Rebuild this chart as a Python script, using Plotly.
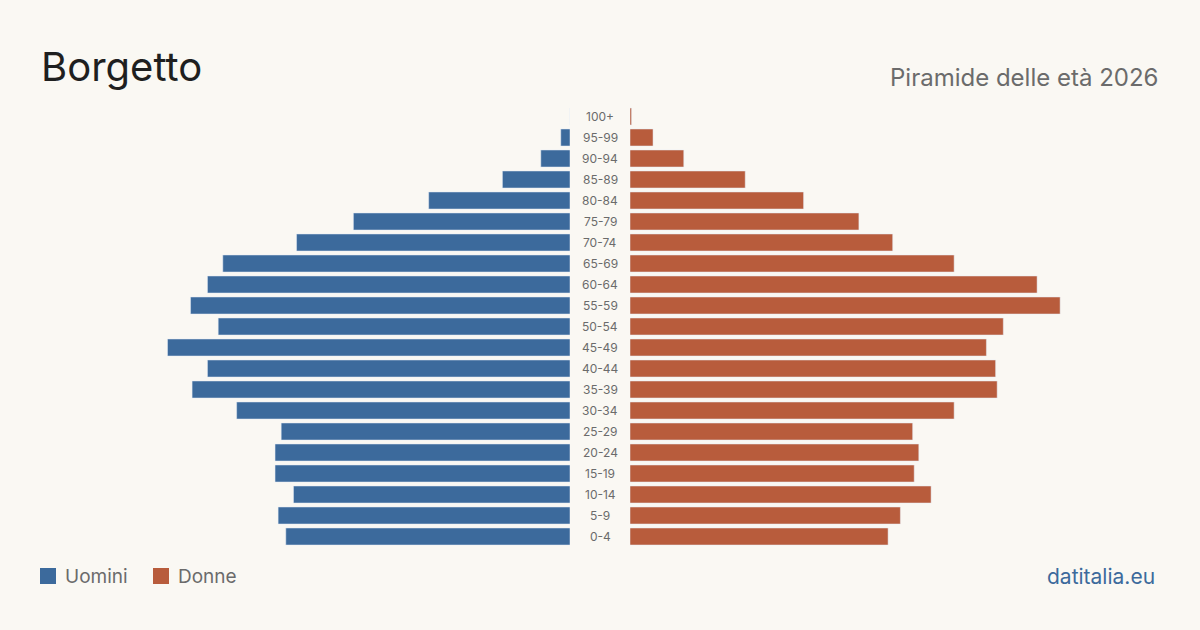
import plotly.graph_objects as go

# Age classes, top (oldest) to bottom (youngest)
ages = ["100+", "95-99", "90-94", "85-89", "80-84", "75-79", "70-74", "65-69",
        "60-64", "55-59", "50-54", "45-49", "40-44", "35-39", "30-34", "25-29",
        "20-24", "15-19", "10-14", "5-9", "0-4"]
men = [0, 6, 19, 44, 92, 141, 178, 226, 236, 247, 229, 262, 236, 246, 217,
       188, 192, 192, 180, 190, 185]
women = [1, 15, 35, 75, 113, 149, 171, 211, 265, 280, 243, 232, 238, 239,
         211, 184, 188, 185, 196, 176, 168]

title = "Borgetto"
subtitle = "Piramide delle età 2026"
legend_labels = ["Uomini", "Donne"]
source = "datitalia.eu"

BLUE = "#3c6a9c"
ORANGE = "#b85c3c"
BG = "#faf8f3"
FONT = "Inter, Noto Sans, sans-serif"

W, H = 1200, 630
ML, MR, MT, MB = 40, 40, 106, 83
PW = W - ML - MR
PH = H - MT - MB
XMAX = 345

def px_x(p):
    return (p - ML) / PW

def px_y(p):
    return (H - MB - p) / PH

fig = go.Figure()
fig.add_trace(go.Bar(y=ages, x=men, orientation="h", marker_color=BLUE,
                     name=legend_labels[0], xaxis="x", yaxis="y",
                     hoverinfo="x+y"))
fig.add_trace(go.Bar(y=ages, x=women, orientation="h", marker_color=ORANGE,
                     name=legend_labels[1], xaxis="x2", yaxis="y",
                     hoverinfo="x+y"))

annotations = []
for a in ages:
    annotations.append(dict(x=0.5, xref="paper", y=a, yref="y", text=a,
                            showarrow=False, xanchor="center", yanchor="middle",
                            font=dict(family=FONT, size=12, color="#6b6b6b")))

annotations.append(dict(x=px_x(39), y=px_y(67), xref="paper", yref="paper",
                        text=title, showarrow=False, xanchor="left",
                        yanchor="middle",
                        font=dict(family=FONT, size=40, color="#1f1f1f")))
annotations.append(dict(x=px_x(1160), y=px_y(77), xref="paper", yref="paper",
                        text=subtitle, showarrow=False, xanchor="right",
                        yanchor="middle",
                        font=dict(family=FONT, size=24, color="#6b6b6b")))
annotations.append(dict(x=px_x(1157), y=px_y(576), xref="paper", yref="paper",
                        text=source, showarrow=False, xanchor="right",
                        yanchor="middle",
                        font=dict(family=FONT, size=21, color=BLUE)))

shapes = []
leg_x = [40, 153]
for lx, lab, col in zip(leg_x, legend_labels, [BLUE, ORANGE]):
    shapes.append(dict(type="rect", xref="paper", yref="paper",
                       x0=px_x(lx), x1=px_x(lx + 16),
                       y0=px_y(584), y1=px_y(568),
                       fillcolor=col, line=dict(width=0)))
    annotations.append(dict(x=px_x(lx + 23), y=px_y(576), xref="paper",
                            yref="paper", text=lab, showarrow=False,
                            xanchor="left", yanchor="middle",
                            font=dict(family=FONT, size=19, color="#6b6b6b")))

fig.update_layout(
    width=W, height=H,
    margin=dict(l=ML, r=MR, t=MT, b=MB),
    paper_bgcolor=BG, plot_bgcolor=BG,
    showlegend=False,
    bargap=0.19,
    xaxis=dict(domain=[0, 530 / PW], range=[XMAX, 0], visible=False,
               fixedrange=True),
    xaxis2=dict(domain=[590 / PW, 1], range=[0, XMAX], visible=False,
                fixedrange=True),
    yaxis=dict(categoryorder="array", categoryarray=ages,
               autorange="reversed", visible=False, fixedrange=True),
    annotations=annotations,
    shapes=shapes,
    font=dict(family=FONT),
)

fig.write_html("out.html")
